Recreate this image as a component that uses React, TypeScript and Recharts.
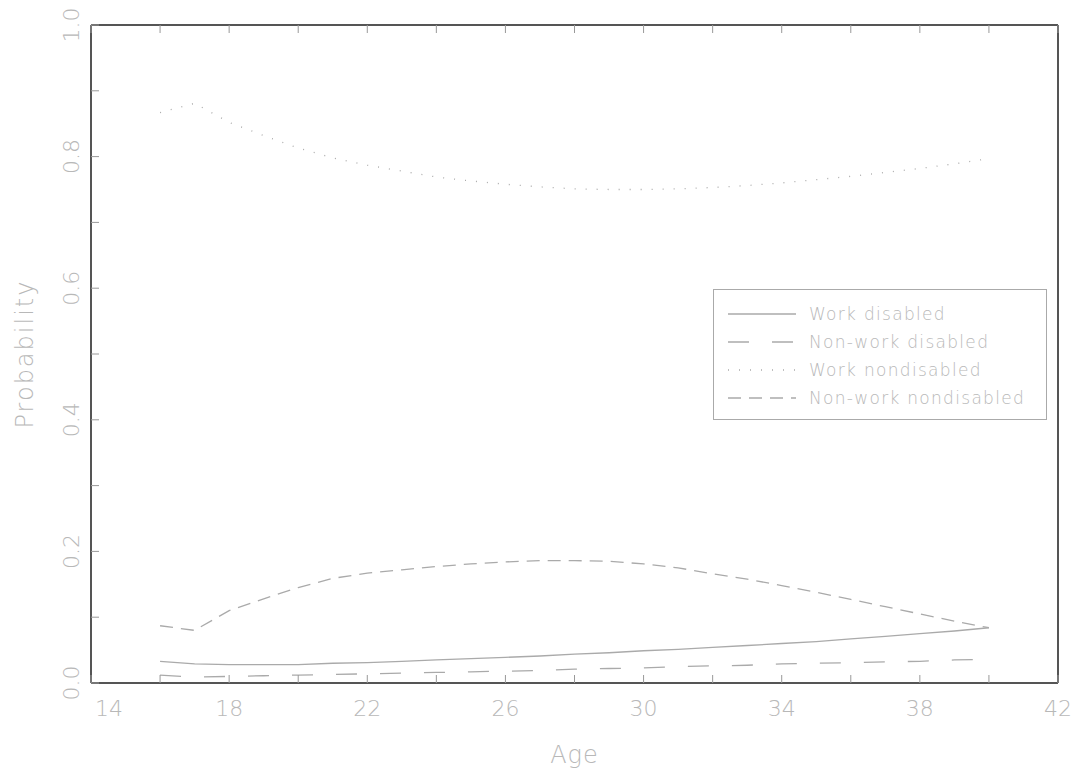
import React from 'react';
import { LineChart, Line, XAxis, YAxis, Legend } from 'recharts';

const ages = [16, 17, 18, 19, 20, 21, 22, 23, 24, 25, 26, 27, 28, 29, 30, 31, 32, 33, 34, 35, 36, 37, 38, 39, 40];
const workDisabled = [0.033, 0.029, 0.028, 0.028, 0.028, 0.03, 0.031, 0.033, 0.035, 0.037, 0.039, 0.041, 0.044, 0.046, 0.049, 0.051, 0.054, 0.057, 0.06, 0.063, 0.067, 0.071, 0.075, 0.079, 0.084];
const nonWorkDisabled = [0.012, 0.009, 0.01, 0.011, 0.012, 0.013, 0.014, 0.015, 0.016, 0.017, 0.018, 0.019, 0.021, 0.022, 0.023, 0.025, 0.026, 0.027, 0.029, 0.03, 0.031, 0.032, 0.033, 0.035, 0.036];
const workNondisabled = [0.867, 0.881, 0.852, 0.832, 0.813, 0.798, 0.787, 0.778, 0.769, 0.763, 0.758, 0.754, 0.751, 0.75, 0.75, 0.751, 0.753, 0.756, 0.76, 0.765, 0.77, 0.776, 0.782, 0.789, 0.797];
const nonWorkNondisabled = [0.087, 0.08, 0.11, 0.128, 0.145, 0.159, 0.167, 0.172, 0.177, 0.181, 0.184, 0.186, 0.186, 0.185, 0.181, 0.175, 0.166, 0.158, 0.148, 0.138, 0.127, 0.116, 0.105, 0.094, 0.084];

const xTicks = [14, 16, 18, 20, 22, 24, 26, 28, 30, 32, 34, 36, 38, 40, 42];
const xLabels = [14, 18, 22, 26, 30, 34, 38, 42];
const yTicks = [0, 0.1, 0.2, 0.3, 0.4, 0.5, 0.6, 0.7, 0.8, 0.9, 1];
const yLabels = ['0.0', '0.2', '0.4', '0.6', '0.8', '1.0'];

const series = [
  { key: 'wd', name: 'Work disabled', dash: undefined },
  { key: 'nwd', name: 'Non-work disabled', dash: '21 23' },
  { key: 'wn', name: 'Work nondisabled', dash: '1 10' },
  { key: 'nwn', name: 'Non-work nondisabled', dash: '13 8' },
];

const data = ages.map((age, i) => ({
  age,
  wd: workDisabled[i],
  nwd: nonWorkDisabled[i],
  wn: workNondisabled[i],
  nwn: nonWorkNondisabled[i],
}));

const FONT = '"DejaVu Sans", sans-serif';
const TEXT = '#b8b8b8';
const LINE = '#aaaaaa';
const FRAME = '#555555';
const TICK = '#999999';

const BottomTick = (props: any) => {
  const { x, y, payload } = props;
  const v = payload.value;
  const showLabel = xLabels.includes(v);
  return (
    <g>
      <line x1={x} y1={y} x2={x} y2={y - 8} stroke={TICK} />
      {showLabel && (
        <text
          x={v === 14 ? x + 4 : x}
          y={y + 33}
          textAnchor={v === 14 ? 'start' : 'middle'}
          fill={TEXT}
          fontSize={22}
          fontFamily={FONT}
          fontWeight={200}
        >
          {v}
        </text>
      )}
    </g>
  );
};

const TopTick = (props: any) => {
  const { x, y } = props;
  return <line x1={x} y1={y} x2={x} y2={y + 8} stroke={TICK} />;
};

const LeftTick = (props: any) => {
  const { x, y, payload } = props;
  const label = payload.value.toFixed(1);
  const showLabel = yLabels.includes(label);
  return (
    <g>
      <line x1={x} y1={y} x2={x + 8} y2={y} stroke={TICK} />
      {showLabel && (
        <text
          x={x - 12}
          y={y}
          transform={`rotate(-90 ${x - 12} ${y})`}
          textAnchor="middle"
          fill={TEXT}
          fontSize={22}
          fontFamily={FONT}
          fontWeight={200}
        >
          {label}
        </text>
      )}
    </g>
  );
};

const RightTick = (props: any) => {
  const { x, y } = props;
  return <line x1={x} y1={y} x2={x - 8} y2={y} stroke={TICK} />;
};

const AgeLabel = (props: any) => {
  const { viewBox } = props;
  return (
    <text
      x={viewBox.x + viewBox.width / 2}
      y={683 + 80}
      textAnchor="middle"
      fill={TEXT}
      fontSize={24}
      fontFamily={FONT}
      fontWeight={200}
      letterSpacing={1}
    >
      Age
    </text>
  );
};

const ProbLabel = (props: any) => {
  const cx = 33;
  const cy = 354;
  return (
    <text
      x={cx}
      y={cy}
      transform={`rotate(-90 ${cx} ${cy})`}
      textAnchor="middle"
      fill={TEXT}
      fontSize={24}
      fontFamily={FONT}
      fontWeight={200}
      letterSpacing={2}
    >
      Probability
    </text>
  );
};

const LegendBox = () => {
  const rowY = [24, 52, 80, 108];
  return (
    <div style={{ width: 334, height: 131, border: `1px solid ${LINE}`, boxSizing: 'border-box', background: '#fff' }}>
      <svg width={332} height={129}>
        {series.map((s, i) => (
          <g key={s.key}>
            <line x1={14} x2={82} y1={rowY[i]} y2={rowY[i]} stroke={LINE} strokeWidth={1.3} strokeDasharray={s.dash} />
            <text
              x={95}
              y={rowY[i] + 6}
              fill={TEXT}
              fontSize={17}
              fontFamily={FONT}
              fontWeight={200}
              letterSpacing={1.3}
            >
              {s.name}
            </text>
          </g>
        ))}
      </svg>
    </div>
  );
};

export default function App() {
  return (
    <div style={{ position: 'absolute', left: 0, top: 0, background: '#fff' }}>
      <LineChart width={1079} height={777} data={data} margin={{ top: 24, right: 20, bottom: 93, left: 90 }}>
        <XAxis
          xAxisId="b"
          dataKey="age"
          type="number"
          domain={[14, 42]}
          ticks={xTicks}
          interval={0}
          height={1}
          tickSize={0}
          tickMargin={0}
          tickLine={false}
          tick={<BottomTick />}
          axisLine={{ stroke: FRAME, strokeWidth: 2 }}
          label={<AgeLabel />}
        />
        <XAxis
          xAxisId="t"
          orientation="top"
          dataKey="age"
          type="number"
          domain={[14, 42]}
          ticks={xTicks}
          interval={0}
          height={1}
          tickSize={0}
          tickMargin={0}
          tickLine={false}
          tick={<TopTick />}
          axisLine={{ stroke: FRAME, strokeWidth: 2 }}
        />
        <YAxis
          yAxisId="l"
          type="number"
          domain={[0, 1]}
          ticks={yTicks}
          interval={0}
          width={1}
          tickSize={0}
          tickMargin={0}
          tickLine={false}
          tick={<LeftTick />}
          axisLine={{ stroke: FRAME, strokeWidth: 2 }}
          label={<ProbLabel />}
        />
        <YAxis
          yAxisId="r"
          orientation="right"
          type="number"
          domain={[0, 1]}
          ticks={yTicks}
          interval={0}
          width={1}
          tickSize={0}
          tickMargin={0}
          tickLine={false}
          tick={<RightTick />}
          axisLine={{ stroke: FRAME, strokeWidth: 2 }}
        />
        {series.map((s) => (
          <Line
            key={s.key}
            xAxisId="b"
            yAxisId="l"
            type="linear"
            dataKey={s.key}
            name={s.name}
            stroke={LINE}
            strokeWidth={1.3}
            strokeDasharray={s.dash}
            dot={false}
            activeDot={false}
            isAnimationActive={false}
          />
        ))}
        <Legend
          layout="vertical"
          align="center"
          verticalAlign="middle"
          content={<LegendBox />}
          wrapperStyle={{ position: 'absolute', left: 713, top: 289, width: 334, height: 131 }}
        />
      </LineChart>
    </div>
  );
}
